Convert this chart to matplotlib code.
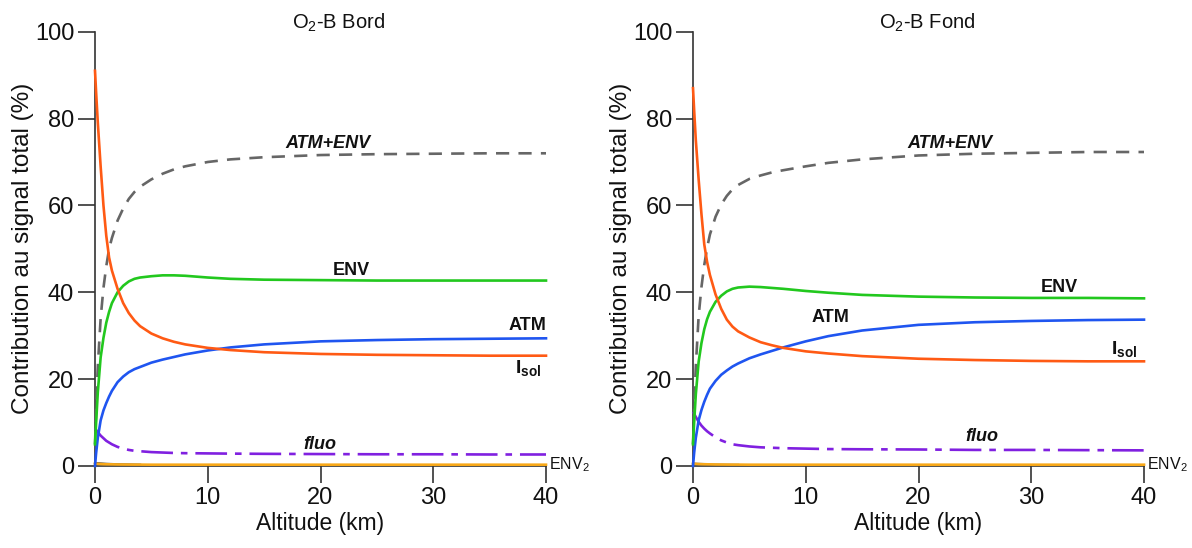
import matplotlib
matplotlib.use("Agg")
import matplotlib.pyplot as plt

plt.rcParams['font.family'] = ['Liberation Sans', 'DejaVu Sans']
plt.rcParams['mathtext.fontset'] = 'custom'
plt.rcParams['mathtext.rm'] = 'Liberation Sans'
plt.rcParams['mathtext.bf'] = 'Liberation Sans:bold'
plt.rcParams['mathtext.it'] = 'Liberation Sans:italic'

# Altitude sample points (km)
altitude = [0, 0.1, 0.25, 0.5, 0.75, 1, 1.25, 1.5, 2, 2.5, 3, 3.5, 4, 5, 6, 7, 8,
            10, 12, 15, 20, 25, 30, 35, 40]

# --- O2-B Bord ---
bord_isol = [91, 86, 79, 69, 60, 53, 48, 45, 40.8, 37.5, 35.2, 33.5, 32.2, 30.5, 29.4, 28.6, 28.0,
             27.2, 26.7, 26.2, 25.8, 25.6, 25.5, 25.4, 25.4]
bord_env = [5, 10, 17, 25, 29.5, 33, 35.5, 37.5, 40, 41.5, 42.5, 43.1, 43.4, 43.7, 43.9, 43.9, 43.8,
            43.4, 43.1, 42.9, 42.8, 42.7, 42.7, 42.7, 42.7]
bord_atm = [0, 3, 6.5, 10.5, 12.8, 14.5, 16, 17.3, 19.3, 20.6, 21.6, 22.3, 22.8, 23.8, 24.5, 25.1, 25.7,
            26.6, 27.3, 28.0, 28.7, 29.0, 29.2, 29.3, 29.4]
bord_atm_env = [5, 13, 23, 34, 41, 46, 50, 52.5, 56.5, 59.3, 61.5, 63.1, 64.3, 66.0, 67.3, 68.3, 69.0,
                70.0, 70.6, 71.1, 71.6, 71.8, 71.9, 72.0, 72.0]
bord_fluo = [8.7, 8.3, 7.8, 7.0, 6.4, 5.8, 5.4, 5.0, 4.4, 4.0, 3.7, 3.5, 3.4, 3.2, 3.1, 3.0, 2.95,
             2.9, 2.85, 2.8, 2.75, 2.7, 2.7, 2.65, 2.65]
bord_env2 = [0.6, 0.55, 0.5, 0.45, 0.42, 0.4, 0.39, 0.38, 0.35, 0.34, 0.33, 0.32, 0.32, 0.3, 0.3, 0.3, 0.3,
             0.3, 0.3, 0.3, 0.3, 0.3, 0.3, 0.3, 0.3]

# --- O2-B Fond ---
fond_isol = [87, 82, 75, 66, 58, 51, 47, 44, 39.5, 36.2, 33.7, 32.1, 31, 29.6, 28.5, 27.8, 27.2,
             26.4, 25.9, 25.3, 24.7, 24.4, 24.2, 24.1, 24.1]
fond_env = [5, 10, 16.5, 24, 28.3, 31.5, 33.8, 35.5, 37.8, 39.2, 40.2, 40.8, 41.1, 41.3, 41.2, 41.0, 40.8,
            40.3, 39.9, 39.4, 39.0, 38.8, 38.7, 38.7, 38.6]
fond_atm = [0, 3, 6.5, 10.5, 12.9, 14.8, 16.4, 17.8, 19.6, 21, 22, 22.9, 23.6, 24.8, 25.7, 26.5, 27.3,
            28.7, 29.9, 31.2, 32.5, 33.1, 33.4, 33.6, 33.7]
fond_atm_env = [5, 13, 23, 34.5, 41.2, 46.3, 50.2, 53.3, 57.4, 60.2, 62.2, 63.7, 64.7, 66.1, 66.9, 67.6, 68.1,
                69.0, 69.8, 70.6, 71.5, 71.9, 72.1, 72.3, 72.3]
fond_fluo = [12.5, 12.0, 11.3, 10.2, 9.3, 8.6, 8.0, 7.5, 6.6, 5.9, 5.4, 5.0, 4.8, 4.5, 4.3, 4.2, 4.1,
             4.0, 3.9, 3.85, 3.8, 3.7, 3.7, 3.65, 3.6]
fond_env2 = [0.6, 0.55, 0.5, 0.45, 0.42, 0.4, 0.39, 0.38, 0.35, 0.34, 0.33, 0.32, 0.32, 0.3, 0.3, 0.3, 0.3,
             0.3, 0.3, 0.3, 0.3, 0.3, 0.3, 0.3, 0.3]

# faint grey residual term near the ground (first km only)
low_alt = [0, 1, 2, 3, 4]
bord_resid = [0.7, 0.5, 0.4, 0.35, 0.3]
fond_resid = [0.6, 0.45, 0.38, 0.33, 0.3]

x_ticks = [0, 10, 20, 30, 40]
y_ticks = [0, 20, 40, 60, 80, 100]

C_ISOL = '#ff5a14'
C_ENV = '#22c81e'
C_ATM = '#1f55f0'
C_SUM = '#666666'
C_FLUO = '#8020e0'
C_ENV2 = '#f8a818'

fig = plt.figure(figsize=(11.92, 5.48), dpi=100)
ax1 = fig.add_axes([95/1192, (548-466)/548, (546-95)/1192, (466-31.7)/548])
ax2 = fig.add_axes([693/1192, (548-466)/548, (1144-693)/1192, (466-31.7)/548])

panels = [
    (ax1, bord_isol, bord_env, bord_atm, bord_atm_env, bord_fluo, bord_env2, bord_resid, '#555555'),
    (ax2, fond_isol, fond_env, fond_atm, fond_atm_env, fond_fluo, fond_env2, fond_resid, '#aaaaaa'),
]

for ax, isol, env, atm, sume, fluo, env2, resid, rc in panels:
    lw = 1.9
    ax.plot(low_alt, resid, color=rc, lw=1.6, clip_on=False, zorder=2)
    ax.plot(altitude, env2, color=C_ENV2, lw=lw, clip_on=False, zorder=3)
    ax.plot(altitude, fluo, color=C_FLUO, lw=lw, dashes=(12, 3, 2.5, 3), clip_on=False, zorder=3)
    ax.plot(altitude, sume, color=C_SUM, lw=lw, dashes=(5, 3.5), clip_on=False, zorder=3)
    ax.plot(altitude, atm, color=C_ATM, lw=lw, clip_on=False, zorder=4)
    ax.plot(altitude, env, color=C_ENV, lw=lw, clip_on=False, zorder=4)
    ax.plot(altitude, isol, color=C_ISOL, lw=lw, clip_on=False, zorder=5)

    ax.set_xlim(0, 40)
    ax.set_ylim(0, 100)
    ax.set_xticks(x_ticks)
    ax.set_yticks(y_ticks)
    for s in ['top', 'right']:
        ax.spines[s].set_visible(False)
    for s in ['left', 'bottom']:
        ax.spines[s].set_color('#333333')
        ax.spines[s].set_linewidth(1.2)
    ax.tick_params(direction='out', length=12, width=1.2, color='#333333',
                   labelsize=17, pad=3, labelcolor='#111111')
    ax.set_xlabel('Altitude (km)', fontsize=16.5, color='#111111', labelpad=2)
    ax.set_ylabel('Contribution au signal total (%)', fontsize=17.5, color='#111111')
    ax.yaxis.set_label_coords(-0.135, 0.5)

    ax.text(40.25, 0.2, r'ENV$_2$', fontsize=11.5, ha='left', va='center', color='#111111')

ax1.text(21.6, 100.8, r'O$_2$-B Bord', fontsize=14.5, ha='center', va='baseline', color='#111111')
ax2.text(20.8, 100.8, r'O$_2$-B Fond', fontsize=14.5, ha='center', va='baseline', color='#111111')

bi = dict(fontsize=13, fontweight='bold', fontstyle='italic', color='#111111')
b = dict(fontsize=13, fontweight='bold', color='#111111')
isol_label = r'$\mathbf{I}_{\mathbf{sol}}$'

# Bord labels
ax1.text(20.7, 74.3, 'ATM+ENV', ha='center', va='center', **bi)
ax1.text(22.7, 45.0, 'ENV', ha='center', va='center', **b)
ax1.text(40, 32.4, 'ATM', ha='right', va='center', **b)
ax1.text(39.6, 22.6, isol_label, ha='right', va='center', fontsize=14, color='#111111')
ax1.text(19.9, 5.0, 'fluo', ha='center', va='center', **bi)

# Fond labels
ax2.text(22.8, 74.3, 'ATM+ENV', ha='center', va='center', **bi)
ax2.text(32.5, 41.1, 'ENV', ha='center', va='center', **b)
ax2.text(12.2, 34.2, 'ATM', ha='center', va='center', **b)
ax2.text(39.4, 26.9, isol_label, ha='right', va='center', fontsize=14, color='#111111')
ax2.text(25.6, 6.8, 'fluo', ha='center', va='center', **bi)

fig.savefig('out.png', dpi=100)
